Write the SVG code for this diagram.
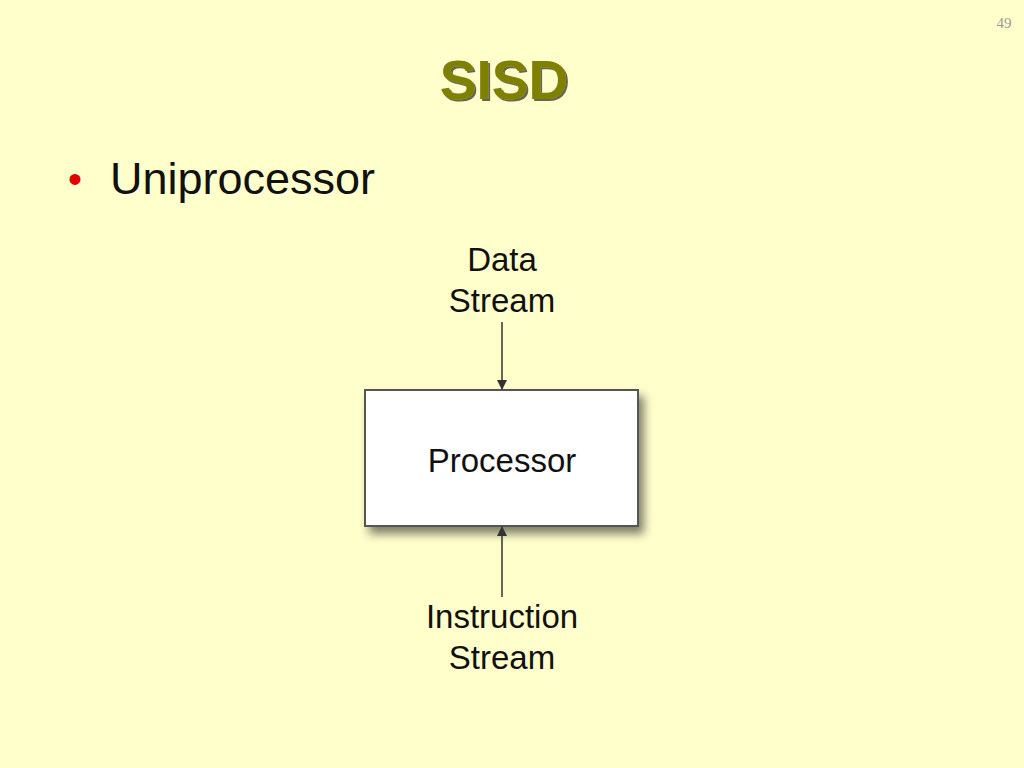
<svg xmlns="http://www.w3.org/2000/svg" width="1024" height="768" viewBox="0 0 1024 768">
<defs>
<marker id="ah" markerWidth="10" markerHeight="10" refX="9" refY="5" orient="auto" markerUnits="userSpaceOnUse"><path d="M0,0 L10,5 L0,10 z" fill="#333"/></marker>
<filter id="sh" x="-10%" y="-10%" width="130%" height="140%"><feGaussianBlur in="SourceAlpha" stdDeviation="5"/><feOffset dx="5" dy="7"/><feComponentTransfer><feFuncA type="linear" slope="0.5"/></feComponentTransfer><feMerge><feMergeNode/><feMergeNode in="SourceGraphic"/></feMerge></filter>
<filter id="ts"><feOffset in="SourceAlpha" dx="2" dy="2"/><feComponentTransfer><feFuncA type="linear" slope="0.6"/></feComponentTransfer><feMerge><feMergeNode/><feMergeNode in="SourceGraphic"/></feMerge></filter>
</defs>
<style>
.l{font-family:"Liberation Sans",Arial,sans-serif;font-size:33px;fill:#111;text-anchor:middle}
</style>
<rect width="1024" height="768" fill="#FFFFCC"/>
<text x="1004" y="28" font-family="Liberation Serif,serif" font-size="15" fill="#999" text-anchor="middle">49</text>
<text x="504" y="99" font-family="Liberation Sans,Arial,sans-serif" font-weight="bold" font-size="55" fill="#808000" text-anchor="middle" filter="url(#ts)">SISD</text>
<text x="68" y="193" font-family="Liberation Sans,Arial,sans-serif" font-size="40" fill="#e00000">•</text>
<text x="110" y="194" font-family="Liberation Sans,Arial,sans-serif" font-size="45" fill="#111">Uniprocessor</text>
<g id="processor"><rect x="365" y="390" width="273" height="136" fill="#fff" stroke="#555" stroke-width="2" filter="url(#sh)"/><text class="l" x="502" y="472" font-size="34">Processor</text></g>
<g id="data"><text class="l" x="502" y="271">Data</text><text class="l" x="502" y="312">Stream</text></g>
<g id="instr"><text class="l" x="502" y="628">Instruction</text><text class="l" x="502" y="669">Stream</text></g>
<g id="connectors" stroke="#333" stroke-width="1.5" fill="none">
<line x1="502" y1="322" x2="502" y2="389" marker-end="url(#ah)"/>
<line x1="502" y1="597" x2="502" y2="527" marker-end="url(#ah)"/>
</g>
</svg>
